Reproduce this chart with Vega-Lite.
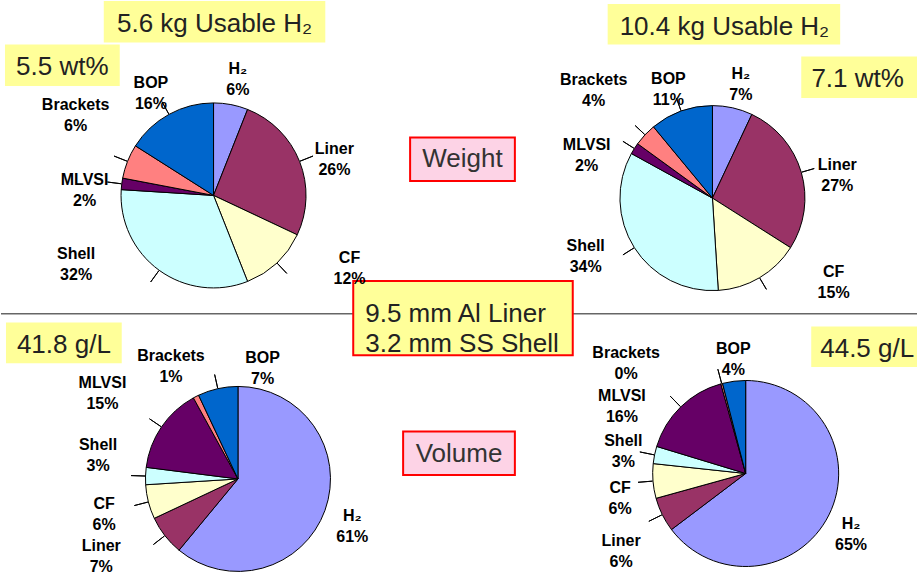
{
  "$schema": "https://vega.github.io/schema/vega-lite/v6.json",
  "width": 918,
  "height": 574,
  "autosize": {"type": "fit", "contains": "padding"},
  "padding": 0,
  "background": "white",
  "config": {
    "view": {"stroke": null},
    "text": {"font": "Liberation Sans", "fontSize": 16, "fontWeight": "bold", "lineHeight": 21, "align": "center", "baseline": "middle", "color": "#000000"}
  },
  "datasets": {
    "one": [{}],
    "pies": [
      {"pie": "Weight 5.6 kg", "part": "H₂", "v": 0.06},
      {"pie": "Weight 5.6 kg", "part": "Liner", "v": 0.26},
      {"pie": "Weight 5.6 kg", "part": "CF", "v": 0.12},
      {"pie": "Weight 5.6 kg", "part": "Shell", "v": 0.32},
      {"pie": "Weight 5.6 kg", "part": "MLVSI", "v": 0.02},
      {"pie": "Weight 5.6 kg", "part": "Brackets", "v": 0.06},
      {"pie": "Weight 5.6 kg", "part": "BOP", "v": 0.16},
      {"pie": "Weight 10.4 kg", "part": "H₂", "v": 0.07},
      {"pie": "Weight 10.4 kg", "part": "Liner", "v": 0.27},
      {"pie": "Weight 10.4 kg", "part": "CF", "v": 0.15},
      {"pie": "Weight 10.4 kg", "part": "Shell", "v": 0.34},
      {"pie": "Weight 10.4 kg", "part": "MLVSI", "v": 0.02},
      {"pie": "Weight 10.4 kg", "part": "Brackets", "v": 0.04},
      {"pie": "Weight 10.4 kg", "part": "BOP", "v": 0.11},
      {"pie": "Volume 5.6 kg", "part": "H₂", "v": 0.61},
      {"pie": "Volume 5.6 kg", "part": "Liner", "v": 0.07},
      {"pie": "Volume 5.6 kg", "part": "CF", "v": 0.06},
      {"pie": "Volume 5.6 kg", "part": "Shell", "v": 0.03},
      {"pie": "Volume 5.6 kg", "part": "MLVSI", "v": 0.15},
      {"pie": "Volume 5.6 kg", "part": "Brackets", "v": 0.01},
      {"pie": "Volume 5.6 kg", "part": "BOP", "v": 0.07},
      {"pie": "Volume 10.4 kg", "part": "H₂", "v": 0.647},
      {"pie": "Volume 10.4 kg", "part": "Liner", "v": 0.06},
      {"pie": "Volume 10.4 kg", "part": "CF", "v": 0.06},
      {"pie": "Volume 10.4 kg", "part": "Shell", "v": 0.03},
      {"pie": "Volume 10.4 kg", "part": "MLVSI", "v": 0.16},
      {"pie": "Volume 10.4 kg", "part": "Brackets", "v": 0.003},
      {"pie": "Volume 10.4 kg", "part": "BOP", "v": 0.04}
    ]
  },
  "data": {"name": "pies"},
  "transform": [
    {"window": [{"op": "row_number", "as": "k"}]},
    {"stack": "v", "groupby": ["pie"], "sort": [{"field": "k", "order": "ascending"}], "as": ["s0", "s1"]},
    {"calculate": "(datum.s0 + datum.s1) / 2", "as": "mid"},
    {"calculate": "[datum.part, format(datum.v, '.0%')]", "as": "label"}
  ],
  "layer": [
    {"data": {"name": "one"}, "mark": {"type": "rule", "color": "#666666", "strokeWidth": 1.5},
     "encoding": {"x": {"datum": 0, "type": "quantitative", "scale": {"domain": [0, 918], "nice": false, "zero": false}, "axis": null}, "x2": {"datum": 918},
                  "y": {"datum": 317, "type": "quantitative", "scale": {"domain": [0, 574], "nice": false, "zero": false, "reverse": true}, "axis": null}}},

    {"data": {"name": "one"}, "mark": {"type": "rect", "fill": "#FFFF99"},
     "encoding": {"x": {"datum": 103, "type": "quantitative", "scale": {"domain": [0, 918], "nice": false, "zero": false}, "axis": null}, "x2": {"datum": 325},
                  "y": {"datum": 1, "type": "quantitative", "scale": {"domain": [0, 574], "nice": false, "zero": false, "reverse": true}, "axis": null}, "y2": {"datum": 43}}},
    {"data": {"name": "one"}, "mark": {"type": "rect", "fill": "#FFFF99"},
     "encoding": {"x": {"datum": 4, "type": "quantitative", "scale": {"domain": [0, 918], "nice": false, "zero": false}, "axis": null}, "x2": {"datum": 119},
                  "y": {"datum": 45, "type": "quantitative", "scale": {"domain": [0, 574], "nice": false, "zero": false, "reverse": true}, "axis": null}, "y2": {"datum": 87}}},
    {"data": {"name": "one"}, "mark": {"type": "rect", "fill": "#FFFF99"},
     "encoding": {"x": {"datum": 608, "type": "quantitative", "scale": {"domain": [0, 918], "nice": false, "zero": false}, "axis": null}, "x2": {"datum": 841},
                  "y": {"datum": 4, "type": "quantitative", "scale": {"domain": [0, 574], "nice": false, "zero": false, "reverse": true}, "axis": null}, "y2": {"datum": 45}}},
    {"data": {"name": "one"}, "mark": {"type": "rect", "fill": "#FFFF99"},
     "encoding": {"x": {"datum": 802, "type": "quantitative", "scale": {"domain": [0, 918], "nice": false, "zero": false}, "axis": null}, "x2": {"datum": 918},
                  "y": {"datum": 57, "type": "quantitative", "scale": {"domain": [0, 574], "nice": false, "zero": false, "reverse": true}, "axis": null}, "y2": {"datum": 99}}},
    {"data": {"name": "one"}, "mark": {"type": "rect", "fill": "#FDD3E6", "stroke": "#FF0000", "strokeWidth": 2},
     "encoding": {"x": {"datum": 410, "type": "quantitative", "scale": {"domain": [0, 918], "nice": false, "zero": false}, "axis": null}, "x2": {"datum": 515},
                  "y": {"datum": 139, "type": "quantitative", "scale": {"domain": [0, 574], "nice": false, "zero": false, "reverse": true}, "axis": null}, "y2": {"datum": 183}}},
    {"data": {"name": "one"}, "mark": {"type": "rect", "fill": "#FFFF99", "stroke": "#FF0000", "strokeWidth": 2},
     "encoding": {"x": {"datum": 353, "type": "quantitative", "scale": {"domain": [0, 918], "nice": false, "zero": false}, "axis": null}, "x2": {"datum": 573},
                  "y": {"datum": 284, "type": "quantitative", "scale": {"domain": [0, 574], "nice": false, "zero": false, "reverse": true}, "axis": null}, "y2": {"datum": 359}}},
    {"data": {"name": "one"}, "mark": {"type": "rect", "fill": "#FFFF99"},
     "encoding": {"x": {"datum": 5, "type": "quantitative", "scale": {"domain": [0, 918], "nice": false, "zero": false}, "axis": null}, "x2": {"datum": 121},
                  "y": {"datum": 326, "type": "quantitative", "scale": {"domain": [0, 574], "nice": false, "zero": false, "reverse": true}, "axis": null}, "y2": {"datum": 367}}},
    {"data": {"name": "one"}, "mark": {"type": "rect", "fill": "#FDD3E6", "stroke": "#FF0000", "strokeWidth": 2},
     "encoding": {"x": {"datum": 403, "type": "quantitative", "scale": {"domain": [0, 918], "nice": false, "zero": false}, "axis": null}, "x2": {"datum": 515},
                  "y": {"datum": 436, "type": "quantitative", "scale": {"domain": [0, 574], "nice": false, "zero": false, "reverse": true}, "axis": null}, "y2": {"datum": 480}}},
    {"data": {"name": "one"}, "mark": {"type": "rect", "fill": "#FFFF99"},
     "encoding": {"x": {"datum": 812, "type": "quantitative", "scale": {"domain": [0, 918], "nice": false, "zero": false}, "axis": null}, "x2": {"datum": 918},
                  "y": {"datum": 330, "type": "quantitative", "scale": {"domain": [0, 574], "nice": false, "zero": false, "reverse": true}, "axis": null}, "y2": {"datum": 371}}},

    {"data": {"name": "one"}, "mark": {"type": "text", "text": "5.6 kg Usable H₂", "fontSize": 26, "fontWeight": "normal", "color": "#222222"},
     "encoding": {"x": {"datum": 214, "type": "quantitative", "scale": {"domain": [0, 918], "nice": false, "zero": false}, "axis": null},
                  "y": {"datum": 24.5, "type": "quantitative", "scale": {"domain": [0, 574], "nice": false, "zero": false, "reverse": true}, "axis": null}}},
    {"data": {"name": "one"}, "mark": {"type": "text", "text": "5.5 wt%", "fontSize": 26, "fontWeight": "normal", "color": "#222222"},
     "encoding": {"x": {"datum": 61.5, "type": "quantitative", "scale": {"domain": [0, 918], "nice": false, "zero": false}, "axis": null},
                  "y": {"datum": 68, "type": "quantitative", "scale": {"domain": [0, 574], "nice": false, "zero": false, "reverse": true}, "axis": null}}},
    {"data": {"name": "one"}, "mark": {"type": "text", "text": "10.4 kg Usable H₂", "fontSize": 26, "fontWeight": "normal", "color": "#222222"},
     "encoding": {"x": {"datum": 725, "type": "quantitative", "scale": {"domain": [0, 918], "nice": false, "zero": false}, "axis": null},
                  "y": {"datum": 27.5, "type": "quantitative", "scale": {"domain": [0, 574], "nice": false, "zero": false, "reverse": true}, "axis": null}}},
    {"data": {"name": "one"}, "mark": {"type": "text", "text": "7.1 wt%", "fontSize": 26, "fontWeight": "normal", "color": "#222222"},
     "encoding": {"x": {"datum": 858.5, "type": "quantitative", "scale": {"domain": [0, 918], "nice": false, "zero": false}, "axis": null},
                  "y": {"datum": 79.5, "type": "quantitative", "scale": {"domain": [0, 574], "nice": false, "zero": false, "reverse": true}, "axis": null}}},
    {"data": {"name": "one"}, "mark": {"type": "text", "text": "Weight", "fontSize": 26, "fontWeight": "normal", "color": "#333333"},
     "encoding": {"x": {"datum": 462.5, "type": "quantitative", "scale": {"domain": [0, 918], "nice": false, "zero": false}, "axis": null},
                  "y": {"datum": 161, "type": "quantitative", "scale": {"domain": [0, 574], "nice": false, "zero": false, "reverse": true}, "axis": null}}},
    {"data": {"name": "one"}, "mark": {"type": "text", "text": ["9.5 mm Al Liner", "3.2 mm SS Shell"], "fontSize": 26, "fontWeight": "normal", "lineHeight": 30, "align": "left", "color": "#222222"},
     "encoding": {"x": {"datum": 365, "type": "quantitative", "scale": {"domain": [0, 918], "nice": false, "zero": false}, "axis": null},
                  "y": {"datum": 317, "type": "quantitative", "scale": {"domain": [0, 574], "nice": false, "zero": false, "reverse": true}, "axis": null}}},
    {"data": {"name": "one"}, "mark": {"type": "text", "text": "41.8 g/L", "fontSize": 26, "fontWeight": "normal", "color": "#222222"},
     "encoding": {"x": {"datum": 63, "type": "quantitative", "scale": {"domain": [0, 918], "nice": false, "zero": false}, "axis": null},
                  "y": {"datum": 348.5, "type": "quantitative", "scale": {"domain": [0, 574], "nice": false, "zero": false, "reverse": true}, "axis": null}}},
    {"data": {"name": "one"}, "mark": {"type": "text", "text": "Volume", "fontSize": 26, "fontWeight": "normal", "color": "#333333"},
     "encoding": {"x": {"datum": 459, "type": "quantitative", "scale": {"domain": [0, 918], "nice": false, "zero": false}, "axis": null},
                  "y": {"datum": 459, "type": "quantitative", "scale": {"domain": [0, 574], "nice": false, "zero": false, "reverse": true}, "axis": null}}},
    {"data": {"name": "one"}, "mark": {"type": "text", "text": "44.5 g/L", "fontSize": 26, "fontWeight": "normal", "align": "left", "color": "#222222"},
     "encoding": {"x": {"datum": 821, "type": "quantitative", "scale": {"domain": [0, 918], "nice": false, "zero": false}, "axis": null},
                  "y": {"datum": 353, "type": "quantitative", "scale": {"domain": [0, 574], "nice": false, "zero": false, "reverse": true}, "axis": null}}},

    {"transform": [{"filter": "datum.pie === 'Weight 5.6 kg'"}],
     "mark": {"type": "arc", "radius": 92.5, "stroke": "#000000", "strokeWidth": 1},
     "encoding": {"x": {"datum": 213, "type": "quantitative", "scale": {"domain": [0, 918], "nice": false, "zero": false}, "axis": null},
                  "y": {"datum": 197.5, "type": "quantitative", "scale": {"domain": [0, 574], "nice": false, "zero": false, "reverse": true}, "axis": null},
                  "theta": {"field": "s0", "type": "quantitative", "scale": {"domain": [0, 1]}}, "theta2": {"field": "s1"},
                  "color": {"field": "part", "type": "nominal", "legend": null, "scale": {"domain": ["H₂", "Liner", "CF", "Shell", "MLVSI", "Brackets", "BOP"], "range": ["#9999FF", "#993366", "#FFFFCC", "#CCFFFF", "#660066", "#FF8080", "#0066CC"]}}}},
    {"transform": [{"filter": "datum.pie === 'Weight 10.4 kg'"}],
     "mark": {"type": "arc", "radius": 92.5, "stroke": "#000000", "strokeWidth": 1},
     "encoding": {"x": {"datum": 713, "type": "quantitative", "scale": {"domain": [0, 918], "nice": false, "zero": false}, "axis": null},
                  "y": {"datum": 200.2, "type": "quantitative", "scale": {"domain": [0, 574], "nice": false, "zero": false, "reverse": true}, "axis": null},
                  "theta": {"field": "s0", "type": "quantitative", "scale": {"domain": [0, 1]}}, "theta2": {"field": "s1"},
                  "color": {"field": "part", "type": "nominal", "legend": null}}},
    {"transform": [{"filter": "datum.pie === 'Volume 5.6 kg'"}],
     "mark": {"type": "arc", "radius": 92.5, "stroke": "#000000", "strokeWidth": 1},
     "encoding": {"x": {"datum": 237.5, "type": "quantitative", "scale": {"domain": [0, 918], "nice": false, "zero": false}, "axis": null},
                  "y": {"datum": 484, "type": "quantitative", "scale": {"domain": [0, 574], "nice": false, "zero": false, "reverse": true}, "axis": null},
                  "theta": {"field": "s0", "type": "quantitative", "scale": {"domain": [0, 1]}}, "theta2": {"field": "s1"},
                  "color": {"field": "part", "type": "nominal", "legend": null}}},
    {"transform": [{"filter": "datum.pie === 'Volume 10.4 kg'"}],
     "mark": {"type": "arc", "radius": 93, "stroke": "#000000", "strokeWidth": 1},
     "encoding": {"x": {"datum": 746.3, "type": "quantitative", "scale": {"domain": [0, 918], "nice": false, "zero": false}, "axis": null},
                  "y": {"datum": 478.5, "type": "quantitative", "scale": {"domain": [0, 574], "nice": false, "zero": false, "reverse": true}, "axis": null},
                  "theta": {"field": "s0", "type": "quantitative", "scale": {"domain": [0, 1]}}, "theta2": {"field": "s1"},
                  "color": {"field": "part", "type": "nominal", "legend": null}}},

    {"transform": [{"filter": "datum.pie === 'Weight 5.6 kg' && datum.part !== 'H₂'"}],
     "mark": {"type": "arc", "radius": 107, "radius2": 93, "stroke": "#000000", "strokeWidth": 1, "fill": null},
     "encoding": {"x": {"datum": 213, "type": "quantitative", "scale": {"domain": [0, 918], "nice": false, "zero": false}, "axis": null},
                  "y": {"datum": 197.5, "type": "quantitative", "scale": {"domain": [0, 574], "nice": false, "zero": false, "reverse": true}, "axis": null},
                  "theta": {"field": "mid", "type": "quantitative", "scale": {"domain": [0, 1]}, "stack": null}, "theta2": {"field": "mid"}}},
    {"transform": [{"filter": "datum.pie === 'Weight 10.4 kg' && datum.part !== 'H₂'"}],
     "mark": {"type": "arc", "radius": 106, "radius2": 93, "stroke": "#000000", "strokeWidth": 1, "fill": null},
     "encoding": {"x": {"datum": 713, "type": "quantitative", "scale": {"domain": [0, 918], "nice": false, "zero": false}, "axis": null},
                  "y": {"datum": 200.2, "type": "quantitative", "scale": {"domain": [0, 574], "nice": false, "zero": false, "reverse": true}, "axis": null},
                  "theta": {"field": "mid", "type": "quantitative", "scale": {"domain": [0, 1]}, "stack": null}, "theta2": {"field": "mid"}}},
    {"transform": [{"filter": "datum.pie === 'Volume 5.6 kg' && indexof(['H₂', 'Brackets'], datum.part) < 0"}],
     "mark": {"type": "arc", "radius": 107, "radius2": 93, "stroke": "#000000", "strokeWidth": 1, "fill": null},
     "encoding": {"x": {"datum": 237.5, "type": "quantitative", "scale": {"domain": [0, 918], "nice": false, "zero": false}, "axis": null},
                  "y": {"datum": 484, "type": "quantitative", "scale": {"domain": [0, 574], "nice": false, "zero": false, "reverse": true}, "axis": null},
                  "theta": {"field": "mid", "type": "quantitative", "scale": {"domain": [0, 1]}, "stack": null}, "theta2": {"field": "mid"}}},
    {"transform": [{"filter": "datum.pie === 'Volume 10.4 kg' && indexof(['H₂', 'BOP'], datum.part) < 0"}],
     "mark": {"type": "arc", "radius": 108, "radius2": 93.5, "stroke": "#000000", "strokeWidth": 1, "fill": null},
     "encoding": {"x": {"datum": 746.3, "type": "quantitative", "scale": {"domain": [0, 918], "nice": false, "zero": false}, "axis": null},
                  "y": {"datum": 478.5, "type": "quantitative", "scale": {"domain": [0, 574], "nice": false, "zero": false, "reverse": true}, "axis": null},
                  "theta": {"field": "mid", "type": "quantitative", "scale": {"domain": [0, 1]}, "stack": null}, "theta2": {"field": "mid"}}},

    {"transform": [{"filter": "datum.pie === 'Weight 5.6 kg' && indexof(['CF', 'Shell', 'Brackets'], datum.part) < 0"}],
     "mark": {"type": "text", "radius": 130, "dy": 1},
     "encoding": {"x": {"datum": 213, "type": "quantitative", "scale": {"domain": [0, 918], "nice": false, "zero": false}, "axis": null},
                  "y": {"datum": 197.5, "type": "quantitative", "scale": {"domain": [0, 574], "nice": false, "zero": false, "reverse": true}, "axis": null},
                  "theta": {"field": "mid", "type": "quantitative", "scale": {"domain": [0, 1]}, "stack": null}, "text": {"field": "label"}}},
    {"transform": [{"filter": "datum.pie === 'Weight 5.6 kg' && datum.part === 'CF'"}],
     "mark": {"type": "text", "radius": 130, "dx": 47, "dy": -32},
     "encoding": {"x": {"datum": 213, "type": "quantitative", "scale": {"domain": [0, 918], "nice": false, "zero": false}, "axis": null},
                  "y": {"datum": 197.5, "type": "quantitative", "scale": {"domain": [0, 574], "nice": false, "zero": false, "reverse": true}, "axis": null},
                  "theta": {"field": "mid", "type": "quantitative", "scale": {"domain": [0, 1]}, "stack": null}, "text": {"field": "label"}}},
    {"transform": [{"filter": "datum.pie === 'Weight 5.6 kg' && datum.part === 'Shell'"}],
     "mark": {"type": "text", "radius": 130, "dx": -61, "dy": -47},
     "encoding": {"x": {"datum": 213, "type": "quantitative", "scale": {"domain": [0, 918], "nice": false, "zero": false}, "axis": null},
                  "y": {"datum": 197.5, "type": "quantitative", "scale": {"domain": [0, 574], "nice": false, "zero": false, "reverse": true}, "axis": null},
                  "theta": {"field": "mid", "type": "quantitative", "scale": {"domain": [0, 1]}, "stack": null}, "text": {"field": "label"}}},
    {"transform": [{"filter": "datum.pie === 'Weight 5.6 kg' && datum.part === 'Brackets'"}],
     "mark": {"type": "text", "radius": 130, "dx": -17, "dy": -43},
     "encoding": {"x": {"datum": 213, "type": "quantitative", "scale": {"domain": [0, 918], "nice": false, "zero": false}, "axis": null},
                  "y": {"datum": 197.5, "type": "quantitative", "scale": {"domain": [0, 574], "nice": false, "zero": false, "reverse": true}, "axis": null},
                  "theta": {"field": "mid", "type": "quantitative", "scale": {"domain": [0, 1]}, "stack": null}, "text": {"field": "label"}}},

    {"transform": [{"filter": "datum.pie === 'Weight 10.4 kg' && indexof(['CF', 'Shell', 'MLVSI', 'Brackets'], datum.part) < 0"}],
     "mark": {"type": "text", "radius": 130, "dy": 3},
     "encoding": {"x": {"datum": 713, "type": "quantitative", "scale": {"domain": [0, 918], "nice": false, "zero": false}, "axis": null},
                  "y": {"datum": 200.2, "type": "quantitative", "scale": {"domain": [0, 574], "nice": false, "zero": false, "reverse": true}, "axis": null},
                  "theta": {"field": "mid", "type": "quantitative", "scale": {"domain": [0, 1]}, "stack": null}, "text": {"field": "label"}}},
    {"transform": [{"filter": "datum.pie === 'Weight 10.4 kg' && datum.part === 'CF'"}],
     "mark": {"type": "text", "radius": 130, "dx": 55, "dy": -38},
     "encoding": {"x": {"datum": 713, "type": "quantitative", "scale": {"domain": [0, 918], "nice": false, "zero": false}, "axis": null},
                  "y": {"datum": 200.2, "type": "quantitative", "scale": {"domain": [0, 574], "nice": false, "zero": false, "reverse": true}, "axis": null},
                  "theta": {"field": "mid", "type": "quantitative", "scale": {"domain": [0, 1]}, "stack": null}, "text": {"field": "label"}}},
    {"transform": [{"filter": "datum.pie === 'Weight 10.4 kg' && datum.part === 'Shell'"}],
     "mark": {"type": "text", "radius": 130, "dx": -17, "dy": -22},
     "encoding": {"x": {"datum": 713, "type": "quantitative", "scale": {"domain": [0, 918], "nice": false, "zero": false}, "axis": null},
                  "y": {"datum": 200.2, "type": "quantitative", "scale": {"domain": [0, 574], "nice": false, "zero": false, "reverse": true}, "axis": null},
                  "theta": {"field": "mid", "type": "quantitative", "scale": {"domain": [0, 1]}, "stack": null}, "text": {"field": "label"}}},
    {"transform": [{"filter": "datum.pie === 'Weight 10.4 kg' && datum.part === 'MLVSI'"}],
     "mark": {"type": "text", "radius": 130, "dx": -16, "dy": 17},
     "encoding": {"x": {"datum": 713, "type": "quantitative", "scale": {"domain": [0, 918], "nice": false, "zero": false}, "axis": null},
                  "y": {"datum": 200.2, "type": "quantitative", "scale": {"domain": [0, 574], "nice": false, "zero": false, "reverse": true}, "axis": null},
                  "theta": {"field": "mid", "type": "quantitative", "scale": {"domain": [0, 1]}, "stack": null}, "text": {"field": "label"}}},
    {"transform": [{"filter": "datum.pie === 'Weight 10.4 kg' && datum.part === 'Brackets'"}],
     "mark": {"type": "text", "radius": 130, "dx": -24, "dy": -29},
     "encoding": {"x": {"datum": 713, "type": "quantitative", "scale": {"domain": [0, 918], "nice": false, "zero": false}, "axis": null},
                  "y": {"datum": 200.2, "type": "quantitative", "scale": {"domain": [0, 574], "nice": false, "zero": false, "reverse": true}, "axis": null},
                  "theta": {"field": "mid", "type": "quantitative", "scale": {"domain": [0, 1]}, "stack": null}, "text": {"field": "label"}}},

    {"transform": [{"filter": "datum.pie === 'Volume 5.6 kg' && indexof(['Liner', 'Shell', 'MLVSI', 'BOP'], datum.part) < 0"}],
     "mark": {"type": "text", "radius": 130, "dx": -8, "dy": -7},
     "encoding": {"x": {"datum": 237.5, "type": "quantitative", "scale": {"domain": [0, 918], "nice": false, "zero": false}, "axis": null},
                  "y": {"datum": 484, "type": "quantitative", "scale": {"domain": [0, 574], "nice": false, "zero": false, "reverse": true}, "axis": null},
                  "theta": {"field": "mid", "type": "quantitative", "scale": {"domain": [0, 1]}, "stack": null}, "text": {"field": "label"}}},
    {"transform": [{"filter": "datum.pie === 'Volume 5.6 kg' && datum.part === 'Liner'"}],
     "mark": {"type": "text", "radius": 130, "dx": -34, "dy": -13},
     "encoding": {"x": {"datum": 237.5, "type": "quantitative", "scale": {"domain": [0, 918], "nice": false, "zero": false}, "axis": null},
                  "y": {"datum": 484, "type": "quantitative", "scale": {"domain": [0, 574], "nice": false, "zero": false, "reverse": true}, "axis": null},
                  "theta": {"field": "mid", "type": "quantitative", "scale": {"domain": [0, 1]}, "stack": null}, "text": {"field": "label"}}},
    {"transform": [{"filter": "datum.pie === 'Volume 5.6 kg' && datum.part === 'Shell'"}],
     "mark": {"type": "text", "radius": 130, "dx": -10, "dy": -30},
     "encoding": {"x": {"datum": 237.5, "type": "quantitative", "scale": {"domain": [0, 918], "nice": false, "zero": false}, "axis": null},
                  "y": {"datum": 484, "type": "quantitative", "scale": {"domain": [0, 574], "nice": false, "zero": false, "reverse": true}, "axis": null},
                  "theta": {"field": "mid", "type": "quantitative", "scale": {"domain": [0, 1]}, "stack": null}, "text": {"field": "label"}}},
    {"transform": [{"filter": "datum.pie === 'Volume 5.6 kg' && datum.part === 'MLVSI'"}],
     "mark": {"type": "text", "radius": 130, "dx": -28, "dy": -23},
     "encoding": {"x": {"datum": 237.5, "type": "quantitative", "scale": {"domain": [0, 918], "nice": false, "zero": false}, "axis": null},
                  "y": {"datum": 484, "type": "quantitative", "scale": {"domain": [0, 574], "nice": false, "zero": false, "reverse": true}, "axis": null},
                  "theta": {"field": "mid", "type": "quantitative", "scale": {"domain": [0, 1]}, "stack": null}, "text": {"field": "label"}}},
    {"transform": [{"filter": "datum.pie === 'Volume 5.6 kg' && datum.part === 'BOP'"}],
     "mark": {"type": "text", "radius": 130, "dx": 53, "dy": 6},
     "encoding": {"x": {"datum": 237.5, "type": "quantitative", "scale": {"domain": [0, 918], "nice": false, "zero": false}, "axis": null},
                  "y": {"datum": 484, "type": "quantitative", "scale": {"domain": [0, 574], "nice": false, "zero": false, "reverse": true}, "axis": null},
                  "theta": {"field": "mid", "type": "quantitative", "scale": {"domain": [0, 1]}, "stack": null}, "text": {"field": "label"}}},

    {"transform": [{"filter": "datum.pie === 'Volume 10.4 kg' && indexof(['CF', 'BOP'], datum.part) >= 0"}],
     "mark": {"type": "text", "radius": 130, "dx": 4, "dy": 4},
     "encoding": {"x": {"datum": 746.3, "type": "quantitative", "scale": {"domain": [0, 918], "nice": false, "zero": false}, "axis": null},
                  "y": {"datum": 478.5, "type": "quantitative", "scale": {"domain": [0, 574], "nice": false, "zero": false, "reverse": true}, "axis": null},
                  "theta": {"field": "mid", "type": "quantitative", "scale": {"domain": [0, 1]}, "stack": null}, "text": {"field": "label"}}},
    {"transform": [{"filter": "datum.pie === 'Volume 10.4 kg' && datum.part === 'H₂'"}],
     "mark": {"type": "text", "radius": 130, "dx": -11, "dy": -7},
     "encoding": {"x": {"datum": 746.3, "type": "quantitative", "scale": {"domain": [0, 918], "nice": false, "zero": false}, "axis": null},
                  "y": {"datum": 478.5, "type": "quantitative", "scale": {"domain": [0, 574], "nice": false, "zero": false, "reverse": true}, "axis": null},
                  "theta": {"field": "mid", "type": "quantitative", "scale": {"domain": [0, 1]}, "stack": null}, "text": {"field": "label"}}},
    {"transform": [{"filter": "datum.pie === 'Volume 10.4 kg' && datum.part === 'Liner'"}],
     "mark": {"type": "text", "radius": 130, "dx": -8, "dy": 10},
     "encoding": {"x": {"datum": 746.3, "type": "quantitative", "scale": {"domain": [0, 918], "nice": false, "zero": false}, "axis": null},
                  "y": {"datum": 478.5, "type": "quantitative", "scale": {"domain": [0, 574], "nice": false, "zero": false, "reverse": true}, "axis": null},
                  "theta": {"field": "mid", "type": "quantitative", "scale": {"domain": [0, 1]}, "stack": null}, "text": {"field": "label"}}},
    {"transform": [{"filter": "datum.pie === 'Volume 10.4 kg' && datum.part === 'Shell'"}],
     "mark": {"type": "text", "radius": 130, "dx": 5, "dy": -7},
     "encoding": {"x": {"datum": 746.3, "type": "quantitative", "scale": {"domain": [0, 918], "nice": false, "zero": false}, "axis": null},
                  "y": {"datum": 478.5, "type": "quantitative", "scale": {"domain": [0, 574], "nice": false, "zero": false, "reverse": true}, "axis": null},
                  "theta": {"field": "mid", "type": "quantitative", "scale": {"domain": [0, 1]}, "stack": null}, "text": {"field": "label"}}},
    {"transform": [{"filter": "datum.pie === 'Volume 10.4 kg' && datum.part === 'MLVSI'"}],
     "mark": {"type": "text", "radius": 130, "dx": -33, "dy": 16},
     "encoding": {"x": {"datum": 746.3, "type": "quantitative", "scale": {"domain": [0, 918], "nice": false, "zero": false}, "axis": null},
                  "y": {"datum": 478.5, "type": "quantitative", "scale": {"domain": [0, 574], "nice": false, "zero": false, "reverse": true}, "axis": null},
                  "theta": {"field": "mid", "type": "quantitative", "scale": {"domain": [0, 1]}, "stack": null}, "text": {"field": "label"}}},
    {"transform": [{"filter": "datum.pie === 'Volume 10.4 kg' && datum.part === 'Brackets'"}],
     "mark": {"type": "text", "radius": 130, "dx": -86, "dy": 5},
     "encoding": {"x": {"datum": 746.3, "type": "quantitative", "scale": {"domain": [0, 918], "nice": false, "zero": false}, "axis": null},
                  "y": {"datum": 478.5, "type": "quantitative", "scale": {"domain": [0, 574], "nice": false, "zero": false, "reverse": true}, "axis": null},
                  "theta": {"field": "mid", "type": "quantitative", "scale": {"domain": [0, 1]}, "stack": null}, "text": {"field": "label"}}}
  ]
}
